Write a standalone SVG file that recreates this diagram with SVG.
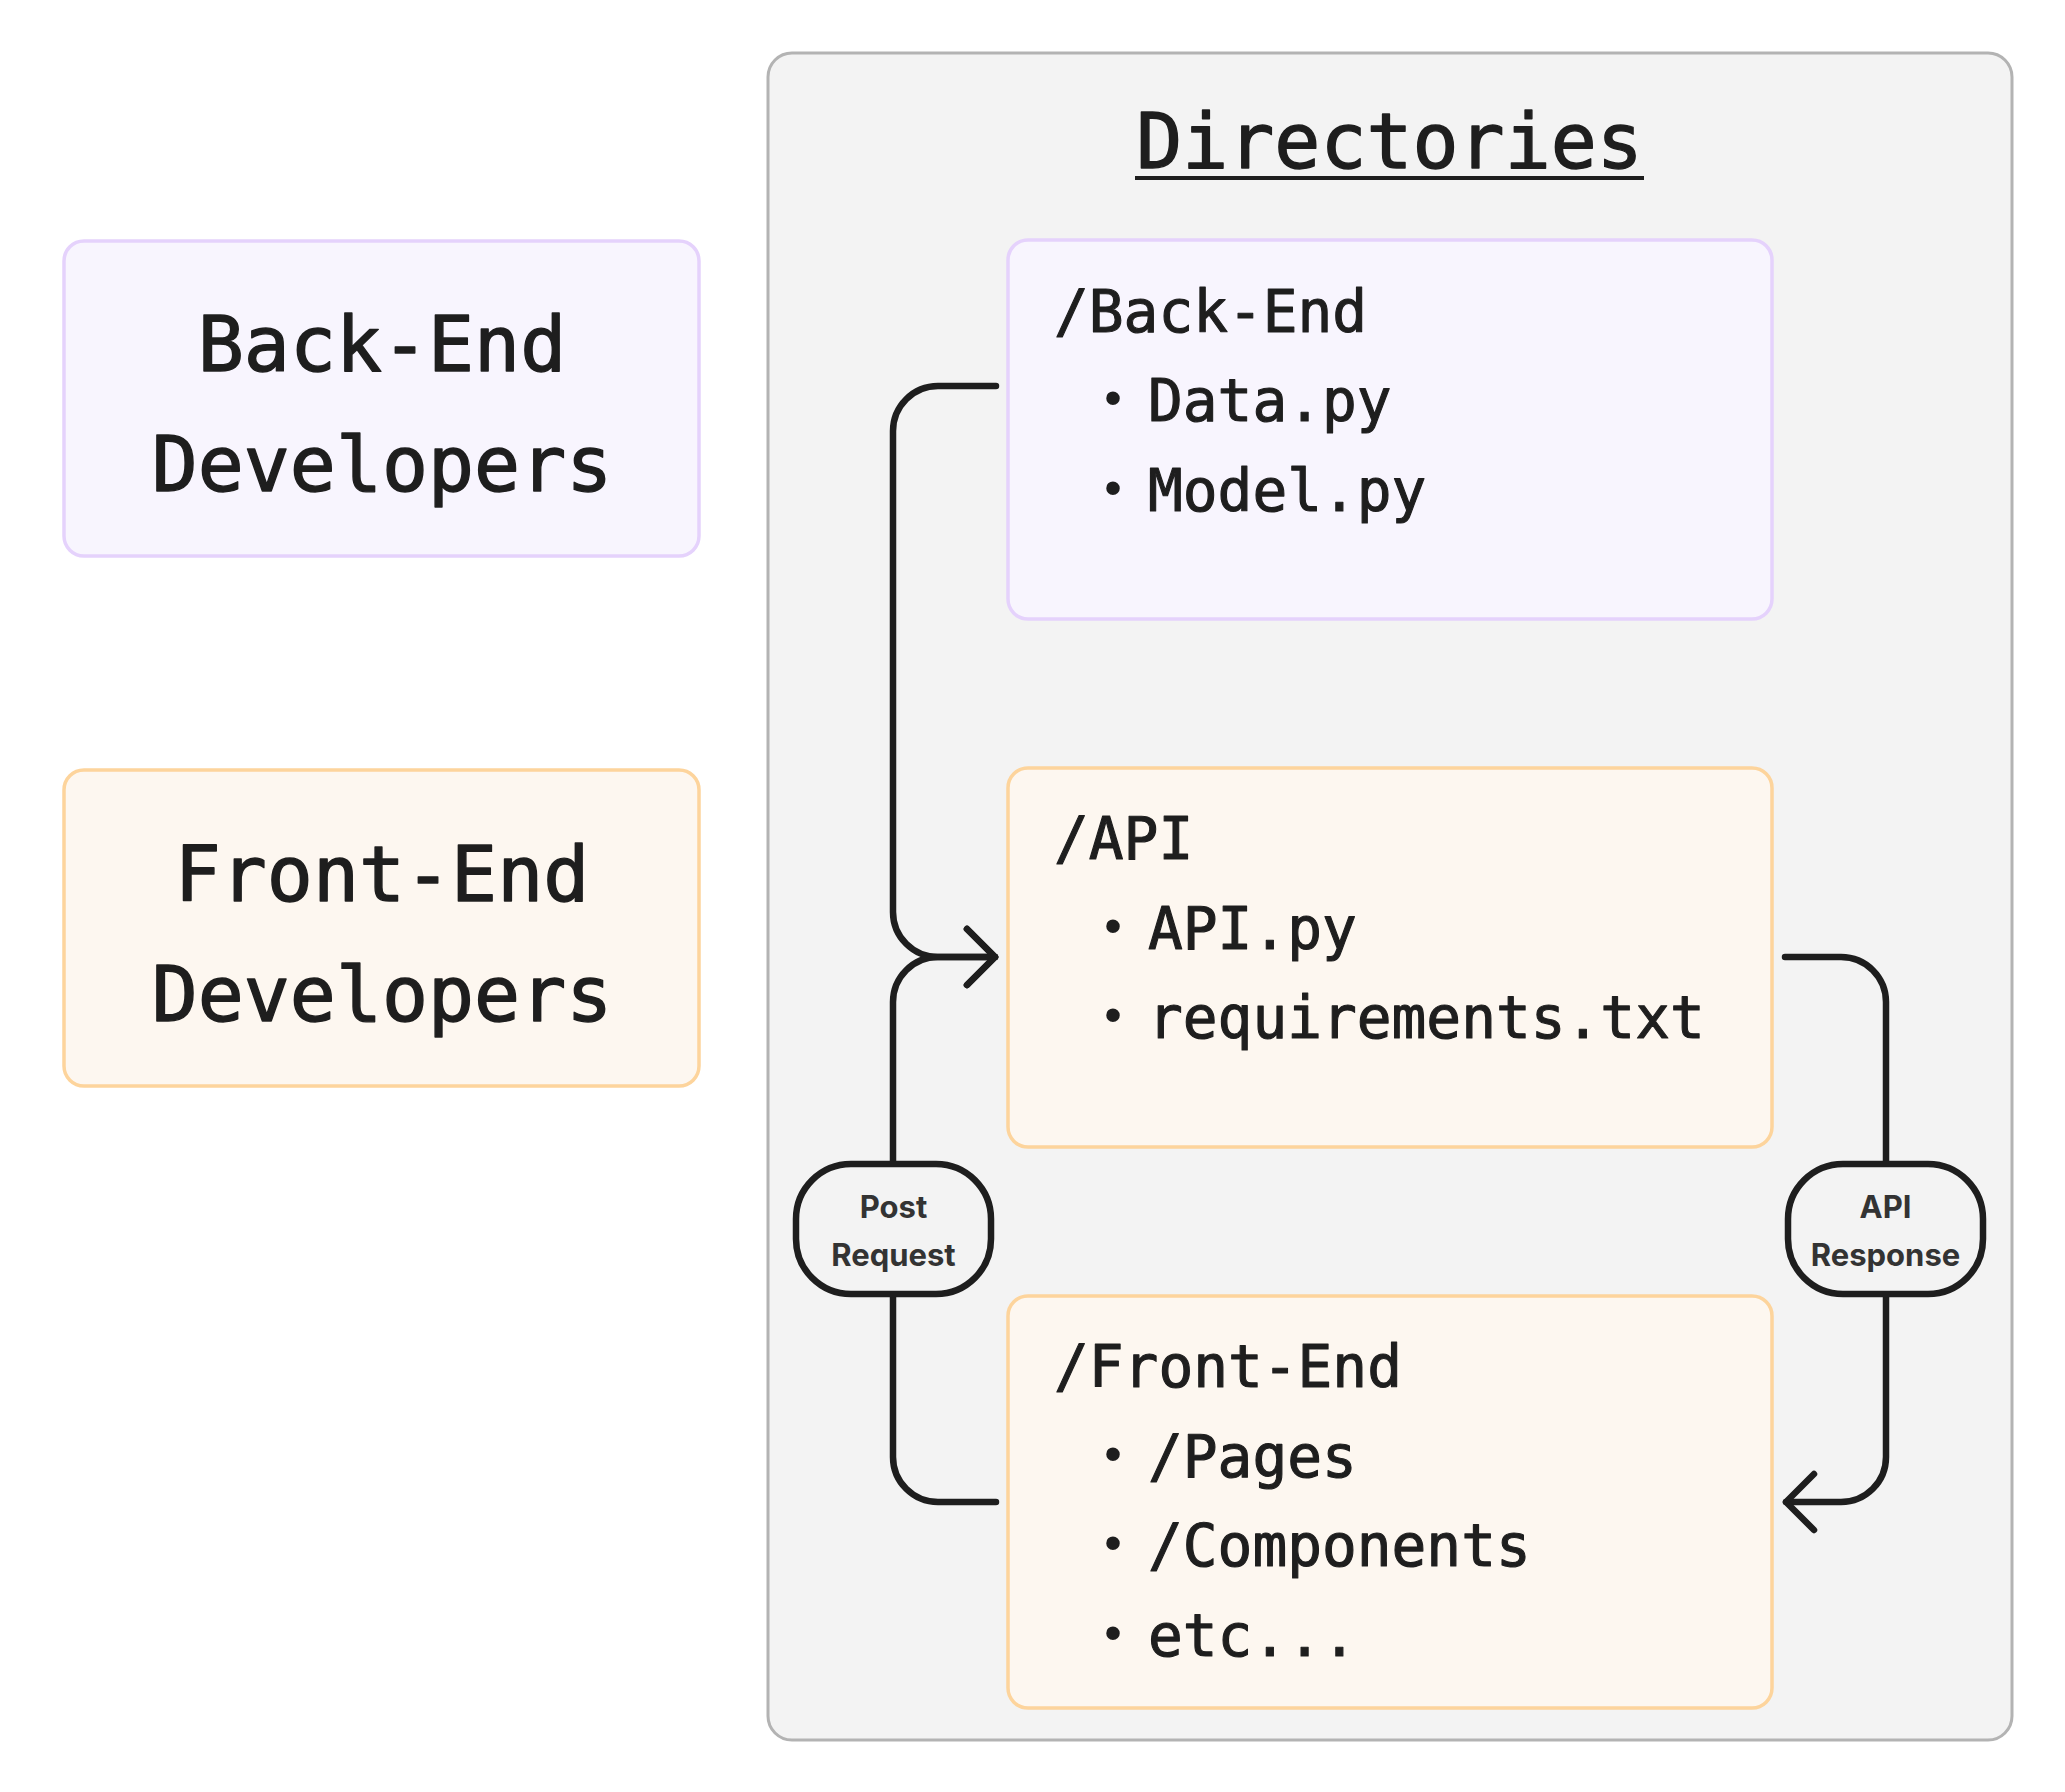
<svg xmlns="http://www.w3.org/2000/svg" width="2065" height="1792" viewBox="0 0 2065 1792">
  <style>
    .mono { font-family: "DejaVu Sans Mono", "Liberation Mono", monospace; fill: #1e1e1e; stroke: #1e1e1e; stroke-linejoin: round; }
    .big { font-size: 76.5px; text-anchor: middle; stroke-width: 1.4; }
    .item { font-size: 57.8px; stroke-width: 1.1; }
    .bul { font-family: "Liberation Sans", Arial, sans-serif; font-size: 50px; fill: #1e1e1e; text-anchor: middle; }
    .lbl { font-family: Inter, "Liberation Sans", sans-serif; font-weight: 700; font-size: 31px; fill: #333333; text-anchor: middle; }
    .purple { fill: #f8f5fe; stroke: #e5d2fc; stroke-width: 3.5; }
    .orange { fill: #fdf7f0; stroke: #fdd49c; stroke-width: 3.5; }
    .conn { fill: none; stroke: #1e1e1e; stroke-width: 6.5; stroke-linecap: round; stroke-linejoin: round; }
    .pill { fill: #f3f3f3; stroke: #1e1e1e; stroke-width: 6.5; }
  </style>
  <defs>
    <marker id="arr" markerUnits="userSpaceOnUse" viewBox="-40 -40 80 80" markerWidth="80" markerHeight="80" refX="0" refY="0" orient="auto" overflow="visible">
      <path d="M -28 -28 L 0 0 L -28 28" fill="none" stroke="#1e1e1e" stroke-width="6.5" stroke-linecap="round" stroke-linejoin="round"/>
    </marker>
  </defs>
  <rect width="2065" height="1792" fill="#ffffff"/>

  <g id="directories">
    <rect x="768" y="53" width="1244" height="1687" rx="24" fill="#f3f3f3" stroke="#b3b3b3" stroke-width="3"/>
    <text class="mono big" x="1389.5" y="168">Directories</text>
    <rect x="1135" y="176" width="509" height="4" fill="#1e1e1e"/>
  </g>

  <g id="backend-devs">
    <rect class="purple" x="64" y="241" width="635" height="315" rx="20"/>
    <text class="mono big" x="382" y="371">Back-End</text>
    <text class="mono big" x="382" y="491">Developers</text>
  </g>

  <g id="frontend-devs">
    <rect class="orange" x="64" y="770" width="635" height="316" rx="20"/>
    <text class="mono big" x="382" y="901">Front-End</text>
    <text class="mono big" x="382" y="1021">Developers</text>
  </g>

  <g id="backend-dir">
    <rect class="purple" x="1008" y="240" width="764" height="379" rx="20"/>
    <text class="mono item" x="1054" y="332">/Back-End</text>
    <text class="bul" x="1113" y="415">•</text>
    <text class="mono item" x="1148" y="421">Data.py</text>
    <text class="bul" x="1113" y="505">•</text>
    <text class="mono item" x="1148" y="511">Model.py</text>
  </g>

  <g id="api-dir">
    <rect class="orange" x="1008" y="768" width="764" height="379" rx="20"/>
    <text class="mono item" x="1054" y="859">/API</text>
    <text class="bul" x="1113" y="943">•</text>
    <text class="mono item" x="1148" y="949">API.py</text>
    <text class="bul" x="1113" y="1032">•</text>
    <text class="mono item" x="1148" y="1038">requirements.txt</text>
  </g>

  <g id="frontend-dir">
    <rect class="orange" x="1008" y="1296" width="764" height="412" rx="20"/>
    <text class="mono item" x="1054" y="1387">/Front-End</text>
    <text class="bul" x="1113" y="1471">•</text>
    <text class="mono item" x="1148" y="1477">/Pages</text>
    <text class="bul" x="1113" y="1560">•</text>
    <text class="mono item" x="1148" y="1566">/Components</text>
    <text class="bul" x="1113" y="1650">•</text>
    <text class="mono item" x="1148" y="1656">etc...</text>
  </g>

  <g id="connectors">
    <path class="conn" d="M 996 386 L 938 386 A 45 45 0 0 0 893 431 L 893 912 A 45 45 0 0 0 938 957 L 995 957" marker-end="url(#arr)"/>
    <path class="conn" d="M 996 1502 L 938 1502 A 45 45 0 0 1 893 1457 L 893 1002 A 45 45 0 0 1 938 957 L 995 957" marker-end="url(#arr)"/>
    <path class="conn" d="M 1785 957 L 1841 957 A 45 45 0 0 1 1886 1002 L 1886 1457 A 45 45 0 0 1 1841 1502 L 1786 1502" marker-end="url(#arr)"/>
  </g>

  <g id="label-post">
    <rect class="pill" x="796" y="1164" width="195" height="130" rx="55"/>
    <text class="lbl" x="893.5" y="1218">Post</text>
    <text class="lbl" x="893.5" y="1266">Request</text>
  </g>

  <g id="label-response">
    <rect class="pill" x="1788" y="1164" width="195" height="130" rx="55"/>
    <text class="lbl" x="1885.5" y="1218">API</text>
    <text class="lbl" x="1885.5" y="1266">Response</text>
  </g>
</svg>
